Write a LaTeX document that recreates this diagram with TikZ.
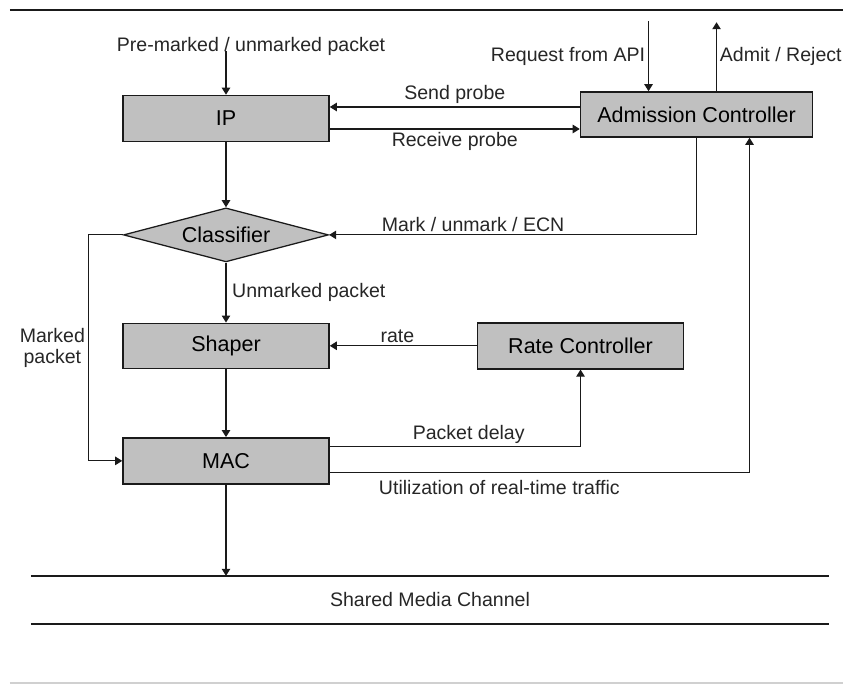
\documentclass[tikz,border=0pt]{standalone}
\usepackage{fontspec}
\setmainfont{Liberation Sans}
\usepackage{tikz}
\usetikzlibrary{arrows.meta, positioning, shapes.geometric, calc}
\usepackage{xcolor}
\definecolor{boxgray}{HTML}{C0C0C0}
\definecolor{linecol}{HTML}{1A1A1A}
\definecolor{rulegray}{HTML}{D0D0D0}

\begin{document}
\begin{tikzpicture}[
    >={Triangle[length=5pt, width=6pt]},
    box/.style={
        draw=linecol, fill=boxgray, minimum width=5.15cm, minimum height=1.15cm,
        align=center, font=\fontsize{15.3}{18}\selectfont, line width=1.1pt
    },
    decision/.style={
        diamond, draw=linecol, fill=boxgray, aspect=3.8, inner sep=1pt,
        minimum width=5.125cm, minimum height=1.35cm,
        font=\fontsize{15.3}{18}\selectfont, line width=0.9pt
    },
    annot/.style={
        font=\fontsize{13.9}{14.5}\selectfont, inner sep=2pt, text=black!85
    },
    flow/.style={->, draw=linecol, line width=0.85pt},
    rail/.style={draw=linecol, line width=1.5pt},
]
\useasboundingbox (-5.65,2.9625) rectangle (15.425,-14.1375);

% ── Nodes ──
\node[box] (ip) {IP};

\node[box, minimum width=5.8cm, minimum height=1.125cm,
      right=6.25cm of ip, yshift=0.1cm] (ac) {Admission Controller};

\node[decision, below=1.625cm of ip] (cls) {Classifier};

\node[box, minimum height=1.125cm, below=1.5cm of cls] (shaper) {Shaper};

\node[box, right=3.675cm of shaper] (rate) {Rate Controller};

\node[box, below=1.7cm of shaper] (mac) {MAC};

\node[annot, above=0.91cm of ip.north, xshift=0.625cm] (pre)
    {Pre-marked / unmarked packet};

% ── Frame lines ──
\draw[rail] (-5.4,2.7125) -- (15.425,2.7125);
\coordinate (chNW) at ($(mac.center)+(-4.875,-2.875)$);
\coordinate (chNE) at ($(mac.center)+(15.075,-2.875)$);
\coordinate (chSW) at ($(mac.center)+(-4.875,-4.075)$);
\coordinate (chSE) at ($(mac.center)+(15.075,-4.075)$);
\draw[rail] (chNW) -- (chNE);
\draw[rail] (chSW) -- (chSE);
\node[annot] (channel) at ($(chNW)!0.5!(chSE)$) {Shared Media Channel};
\draw[rulegray, line width=1pt] (-5.4,-14.1125) -- (15.425,-14.1125);

% ── Main flow arrows ──
\draw[flow] (pre.base -| ip.north) -- (ip.north);
\draw[flow] (ip.south) -- (cls.north);
\draw[flow] (cls.south) -- (shaper.north)
    node[midway, right=2pt, annot] {Unmarked packet};
\draw[flow] (shaper.south) -- (mac.north);
\draw[flow] (mac.south) -- (mac.south |- chNW);

% ── Marked packets bypass the shaper ──
\coordinate (markL) at ($(cls.west)+(-0.8625,0)$);
\draw[flow] (cls.west) -- (markL) |- (mac.west)
    node[pos=0.25, left, annot, align=center] {Marked\\packet};

% ── Probes between IP and admission control ──
\coordinate (sendA) at ($(ac.west)+(0,0.1875)$);
\draw[flow] (sendA) -- (sendA -| ip.east)
    node[midway, above, annot] {Send probe};
\coordinate (recvA) at ($(ip.east)+(0,-0.2625)$);
\draw[flow] (recvA) -- (recvA -| ac.west)
    node[midway, below, annot] {Receive probe};

% ── Requests and decisions ──
\coordinate (reqTop) at ($(ac.north)+(-1.2,1.75)$);
\draw[flow] (reqTop) -- (reqTop |- ac.north)
    node[midway, left, annot] {Request from API};
\coordinate (admTop) at ($(ac.north)+(0.5,1.725)$);
\draw[flow] (admTop |- ac.north) -- (admTop)
    node[midway, right, annot] {Admit / Reject};

\draw[flow] (ac.south) |- (cls.east)
    node[pos=0.804, above, annot] {Mark / unmark / ECN};

% ── Rate control loop ──
\draw[flow] (rate.west) -- (shaper.east)
    node[pos=0.54, above, annot] {rate};
\coordinate (delayA) at ($(mac.east)+(0,0.35)$);
\draw[flow] (delayA) -| (rate.south)
    node[pos=0.277, above, annot] {Packet delay};

% ── Utilization feedback ──
\coordinate (utilA) at ($(mac.east)+(0,-0.3)$);
\coordinate (utilB) at ($(ac.south)+(1.325,0)$);
\draw[flow] (utilA) -| (utilB)
    node[pos=0.202, below=3pt, annot] {Utilization of real-time traffic};

\end{tikzpicture}
\end{document}
